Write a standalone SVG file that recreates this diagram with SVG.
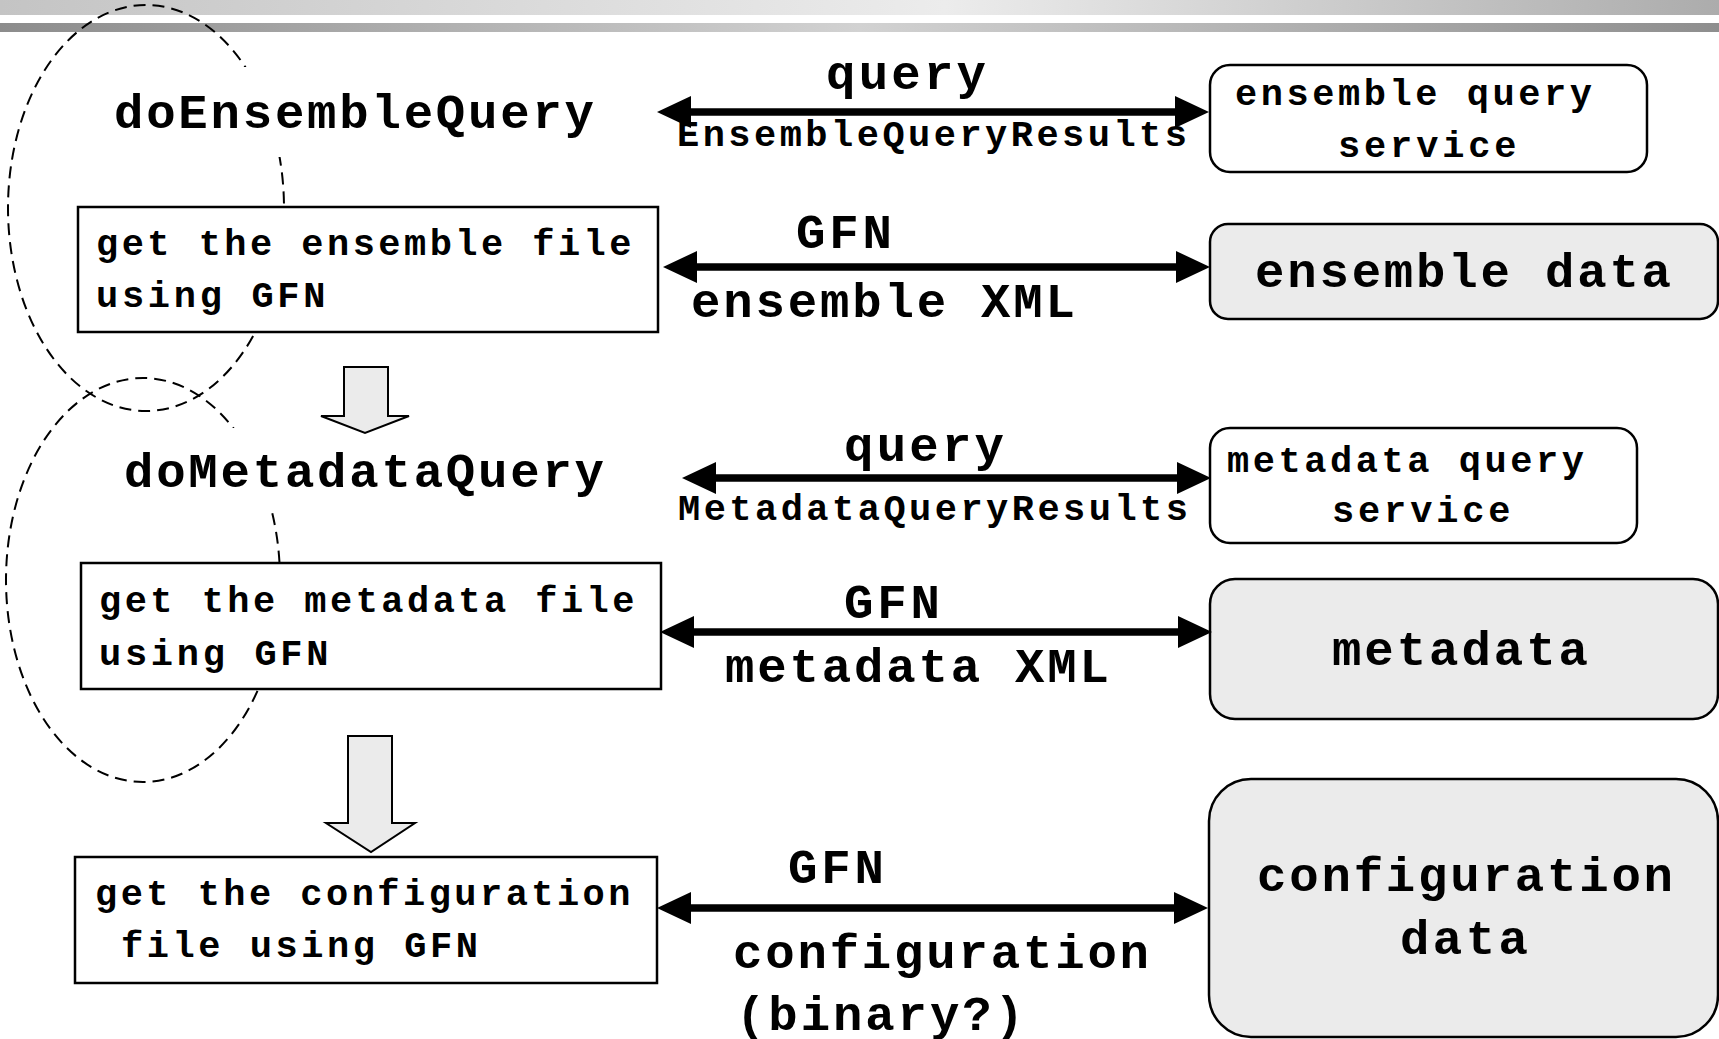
<svg xmlns="http://www.w3.org/2000/svg" width="1719" height="1039" viewBox="0 0 1719 1039">
<defs>
<linearGradient id="band1" x1="0" y1="0" x2="1" y2="0">
<stop offset="0" stop-color="#c4c4c4"/>
<stop offset="0.55" stop-color="#ececec"/>
<stop offset="1" stop-color="#acacac"/>
</linearGradient>
<linearGradient id="band2" x1="0" y1="0" x2="1" y2="0">
<stop offset="0" stop-color="#8c8c8c"/>
<stop offset="0.5" stop-color="#d2d2d2"/>
<stop offset="1" stop-color="#8e8e8e"/>
</linearGradient>
<marker id="head" markerUnits="userSpaceOnUse" viewBox="0 0 34 32" markerWidth="34" markerHeight="32" refX="0" refY="16" orient="auto-start-reverse">
<path d="M0,0 L34,16 L0,32 z" fill="#000"/>
</marker>
<mask id="loopMask" maskUnits="userSpaceOnUse" x="0" y="0" width="1719" height="1039">
<rect x="0" y="0" width="1719" height="1039" fill="#fff"/>
<rect x="105" y="67" width="520" height="90" fill="#000"/>
<rect x="105" y="428" width="520" height="85" fill="#000"/>
</mask>
<style>
.t{font-family:"Liberation Mono","Courier New",monospace;font-weight:bold;fill:#000}
.L{font-size:49px}
.S{font-size:37px}
.box{fill:#fff;stroke:#000;stroke-width:2.5}
.data{fill:#ebebeb;stroke:#000;stroke-width:2.5}
.loop{fill:none;stroke:#000;stroke-width:2;stroke-dasharray:12 7}
.link{stroke:#000;stroke-width:7.5;fill:none;marker-start:url(#head);marker-end:url(#head)}
.flow{fill:#ebebeb;stroke:#000;stroke-width:2;stroke-linejoin:miter}
</style>
</defs>

<g id="header">
<rect x="0" y="0" width="1719" height="15" fill="url(#band1)"/>
<rect x="0" y="23" width="1719" height="9" fill="url(#band2)"/>
</g>

<g id="loops" mask="url(#loopMask)">
<ellipse id="loop-ensemble" class="loop" cx="146" cy="208" rx="138" ry="203"/>
<ellipse id="loop-metadata" class="loop" cx="143" cy="580" rx="137" ry="202"/>
</g>

<g id="doEnsembleQuery">
<text class="t L" x="114" y="128" textLength="480">doEnsembleQuery</text>
</g>
<g id="doMetadataQuery">
<text class="t L" x="124" y="487" textLength="480">doMetadataQuery</text>
</g>

<g id="get-ensemble-file">
<rect class="box" x="78" y="207" width="580" height="125"/>
<text class="t S" x="96" y="255" textLength="535.5">get the ensemble file</text>
<text class="t S" x="96" y="307" textLength="229.5">using GFN</text>
</g>

<g id="get-metadata-file">
<rect class="box" x="81" y="563" width="580" height="126"/>
<text class="t S" x="99" y="612" textLength="535.5">get the metadata file</text>
<text class="t S" x="99" y="665" textLength="229.5">using GFN</text>
</g>

<g id="get-configuration-file">
<rect class="box" x="75" y="857" width="582" height="126"/>
<text class="t S" x="95" y="905" textLength="535.5">get the configuration</text>
<text class="t S" x="121" y="957" textLength="357">file using GFN</text>
</g>

<g id="ensemble-query-service">
<rect class="box" x="1210" y="65" width="437" height="107" rx="20" ry="20"/>
<text class="t S" x="1235" y="105" textLength="357">ensemble query</text>
<text class="t S" x="1338" y="157" textLength="178.5">service</text>
</g>

<g id="ensemble-data">
<rect class="data" x="1210" y="224" width="508" height="95" rx="18" ry="18"/>
<text class="t L" x="1255" y="287" textLength="416">ensemble data</text>
</g>

<g id="metadata-query-service">
<rect class="box" x="1210" y="428" width="427" height="115" rx="20" ry="20"/>
<text class="t S" x="1227" y="472" textLength="357">metadata query</text>
<text class="t S" x="1332" y="522" textLength="178.5">service</text>
</g>

<g id="metadata">
<rect class="data" x="1210" y="579" width="508" height="140" rx="25" ry="25"/>
<text class="t L" x="1332" y="665" textLength="256">metadata</text>
</g>

<g id="configuration-data">
<rect class="data" x="1209" y="779" width="509" height="258" rx="42" ry="42"/>
<text class="t L" x="1257" y="891" textLength="416">configuration</text>
<text class="t L" x="1400" y="954" textLength="128">data</text>
</g>

<g id="connectors">
<line class="link" x1="691" y1="112" x2="1175" y2="112"/>
<line class="link" x1="697" y1="267" x2="1176" y2="267"/>
<line class="link" x1="716" y1="478" x2="1177" y2="478"/>
<line class="link" x1="694" y1="632" x2="1178" y2="632"/>
<line class="link" x1="691" y1="908" x2="1174" y2="908"/>
<polygon class="flow" points="344,367 388,367 388,416 409,416 365,433 321,416 344,416"/>
<polygon class="flow" points="348,736 392,736 392,823 415,823 371,852 326,823 348,823"/>
</g>

<g id="connector-labels">
<text class="t L" x="826" y="89" textLength="160">query</text>
<text class="t S" x="677" y="146" textLength="510">EnsembleQueryResults</text>
<text class="t L" x="796" y="248" textLength="96">GFN</text>
<text class="t L" x="691" y="317" textLength="384">ensemble XML</text>
<text class="t L" x="844" y="461" textLength="160">query</text>
<text class="t S" x="678" y="520" textLength="510">MetadataQueryResults</text>
<text class="t L" x="844" y="618" textLength="96">GFN</text>
<text class="t L" x="725" y="682" textLength="384">metadata XML</text>
<text class="t L" x="788" y="883" textLength="96">GFN</text>
<text class="t L" x="733" y="968" textLength="416">configuration</text>
<text class="t L" x="736" y="1030" textLength="288">(binary?)</text>
</g>
</svg>
